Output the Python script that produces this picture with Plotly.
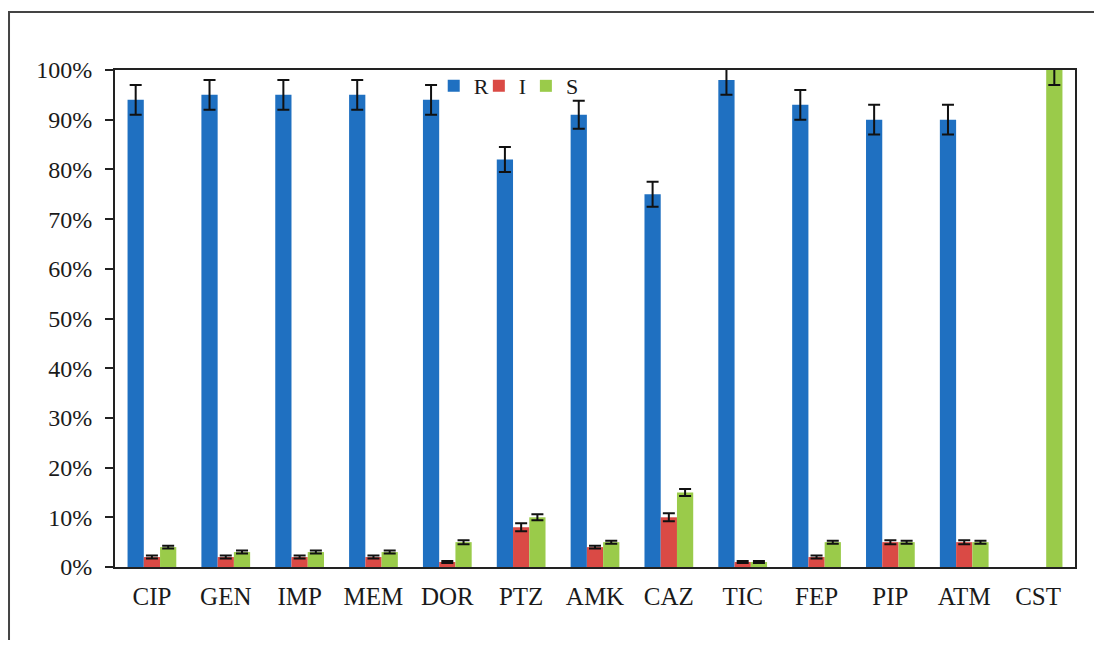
import plotly.graph_objects as go

categories = ["CIP", "GEN", "IMP", "MEM", "DOR", "PTZ", "AMK", "CAZ", "TIC", "FEP", "PIP", "ATM", "CST"]
r_vals = [0.94, 0.95, 0.95, 0.95, 0.94, 0.82, 0.91, 0.75, 0.98, 0.93, 0.90, 0.90, None]
r_err = [0.03, 0.03, 0.03, 0.03, 0.03, 0.025, 0.028, 0.025, 0.03, 0.03, 0.03, 0.03, None]
i_vals = [0.02, 0.02, 0.02, 0.02, 0.01, 0.08, 0.04, 0.10, 0.01, 0.02, 0.05, 0.05, None]
i_err = [0.003, 0.003, 0.003, 0.003, 0.002, 0.008, 0.003, 0.008, 0.002, 0.003, 0.004, 0.004, None]
s_vals = [0.04, 0.03, 0.03, 0.03, 0.05, 0.10, 0.05, 0.15, 0.01, 0.05, 0.05, 0.05, 1.00]
s_err = [0.003, 0.003, 0.003, 0.003, 0.004, 0.006, 0.003, 0.007, 0.002, 0.003, 0.003, 0.003, 0.03]

series = [("R", r_vals, r_err, "#1F70C1", "legend"),
          ("I", i_vals, i_err, "#DA4A45", "legend2"),
          ("S", s_vals, s_err, "#9ACB4A", "legend3")]

FONT = "Liberation Serif, Times New Roman, serif"

fig = go.Figure()
for name, vals, errs, col, leg in series:
    fig.add_trace(go.Bar(
        name=name, x=categories, y=vals, marker_color=col, marker_line_width=0, legend=leg,
        error_y=dict(type="data", array=errs, visible=True, color="#111111", thickness=2, width=6),
    ))

def leg(x):
    return dict(orientation="h", x=x, y=1.01, xanchor="left", yanchor="top",
                bgcolor="rgba(0,0,0,0)", font=dict(family=FONT, size=22), itemwidth=30)

fig.update_layout(
    width=1086, height=632,
    margin=dict(l=107, r=19, t=62, b=73),
    paper_bgcolor="white", plot_bgcolor="white",
    barmode="group", bargap=0.34, bargroupgap=0,
    font=dict(family=FONT, size=22, color="#1a1a1a"),
    showlegend=True,
    legend=leg(0.332), legend2=leg(0.379), legend3=leg(0.428),
    xaxis=dict(showline=True, linecolor="#222", linewidth=2, mirror=True, ticks="",
               tickfont=dict(family=FONT, size=25), showgrid=False, ticklabelstandoff=6),
    yaxis=dict(range=[0, 1], dtick=0.1, tickformat=".0%", showline=True, linecolor="#222",
               linewidth=2, mirror=True, ticks="outside", ticklen=8, tickwidth=2, tickcolor="#222",
               showgrid=False, zeroline=False, tickfont=dict(family=FONT, size=24),
               ticklabelstandoff=8),
    shapes=[dict(type="rect", xref="paper", yref="paper", x0=-0.1104, x1=2, y0=-1, y1=1.1167,
                 line=dict(color="#444", width=2), fillcolor="rgba(0,0,0,0)", layer="below")],
)

fig.write_html("out.html")
